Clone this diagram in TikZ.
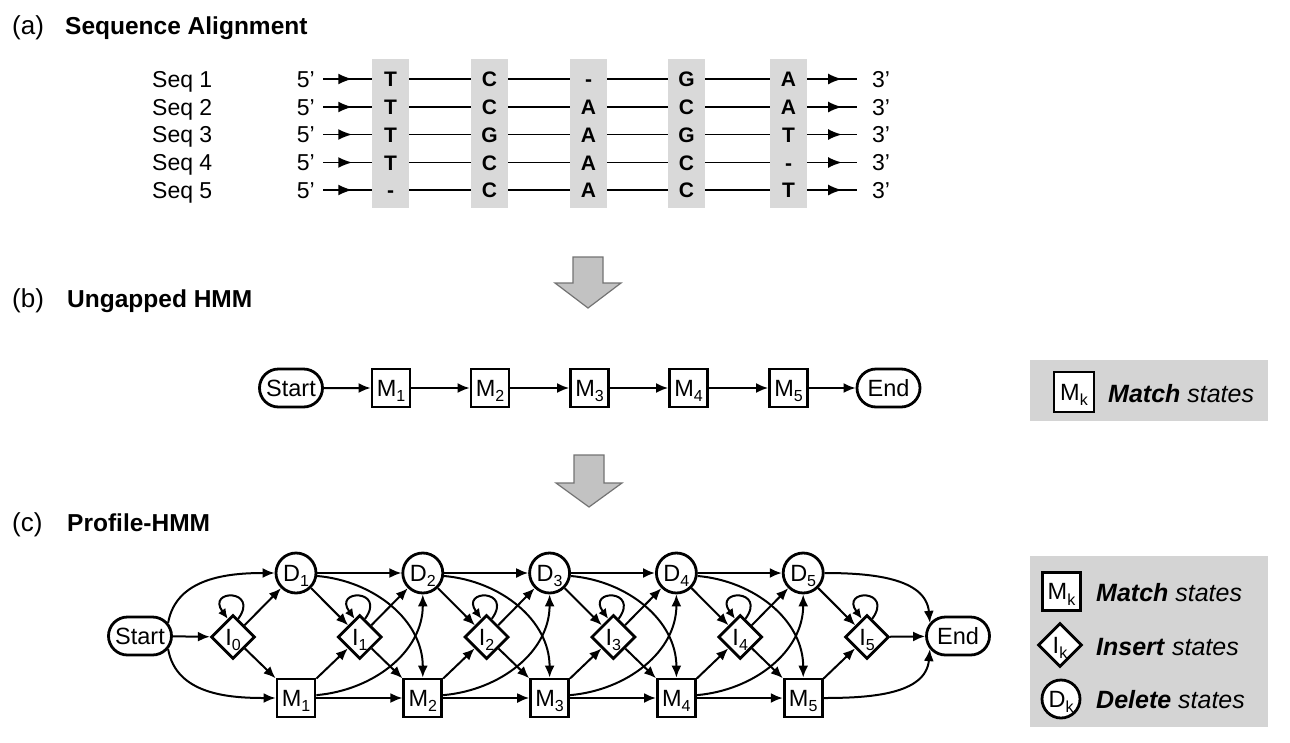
\documentclass[tikz,border=0pt]{standalone}
\usepackage{fontspec}
\setmainfont{Liberation Sans}
\usetikzlibrary{arrows.meta,shapes.geometric,shapes.misc,decorations.markings}
\definecolor{colgray}{gray}{0.85}
\definecolor{leggray}{gray}{0.83}
\definecolor{arrfill}{gray}{0.76}
\definecolor{arredge}{gray}{0.45}
\newcommand\sbs[1]{\raisebox{-5.5pt}{\fontsize{16}{16}\selectfont #1}}
\begin{document}
\begin{tikzpicture}[x=1pt,y=-1pt,
  title/.style={font=\fontsize{24.5}{28}\selectfont, anchor=base west, inner sep=0pt},
  seqlab/.style={font=\fontsize{23}{26}\selectfont, anchor=west, inner sep=0pt, text height=16.4pt, text depth=0pt},
  five/.style={font=\fontsize{23}{26}\selectfont, anchor=east, inner xsep=8pt, inner ysep=0pt, text height=16.4pt, text depth=0pt},
  three/.style={font=\fontsize{23}{26}\selectfont, anchor=west, inner xsep=15pt, inner ysep=0pt, text height=16.4pt, text depth=0pt},
  base/.style={font=\fontsize{21}{24}\selectfont\bfseries, minimum width=37pt, inner xsep=0pt, inner ysep=0pt, text height=15pt, text depth=0pt},
  seqline/.style={line width=1.9pt},
  midarrow/.style={postaction={decorate,decoration={markings,mark=at position #1 with {\arrow{Latex[length=14pt,width=11pt]}}}}},
  statefont/.style={font=\fontsize{23.5}{26}\selectfont, text height=16.8pt, text depth=0pt, inner sep=0pt},
  term/.style={rounded rectangle, draw, line width=2.8pt, fill=white, minimum width=63pt, minimum height=38pt, statefont},
  mstate/.style={rectangle, draw, line width=2.8pt, fill=white, minimum size=38pt, statefont},
  istate/.style={diamond, aspect=1, draw, line width=2.8pt, fill=white, minimum size=44pt, statefont},
  dstate/.style={circle, draw, line width=2.8pt, fill=white, minimum size=40pt, statefont},
  conn/.style={line width=2pt, -{Latex[length=12pt,width=10pt]}},
  connloop/.style={line width=2pt, -{Latex[length=10pt,width=9pt]}},
  legtext/.style={font=\fontsize{25}{28}\selectfont, anchor=base west, inner sep=0pt},
  blockarrow/.style={fill=arrfill, draw=arredge, line width=1.2pt}
]
\useasboundingbox (0,0) rectangle (1290,742);

% ---------- titles ----------
\node[title] (ta) at (12,34) {\fontsize{26}{28}\selectfont(a)};
\node[title] (tan) at (65,34) {\textbf{Sequence Alignment}};
\node[title] (tb) at (12,307) {\fontsize{26}{28}\selectfont(b)};
\node[title] (tbn) at (67,307) {\textbf{Ungapped HMM}};
\node[title] (tc) at (12,531) {\fontsize{26}{28}\selectfont(c)};
\node[title] (tcn) at (67,531) {\textbf{Profile-HMM}};

% ---------- (a) sequence alignment ----------
\foreach \cx in {390.5,489.5,588.5,686.5,788.5}
  \fill[colgray] (\cx-18.5,59) rectangle (\cx+18.5,208);

\foreach \r/\y/\la/\lb/\lc/\ld/\le in {1/79/T/C/-/G/A,2/107/T/C/A/C/A,3/134.5/T/G/A/G/T,4/162.5/T/C/A/C/-,5/190/-/C/A/C/T}{
  \node[seqlab] (s\r) at (152,\y) {Seq \r};
  \node[five] (f\r) at (323,\y) {5’};
  \node[base] (c\r1) at (390.5,\y) {\la};
  \node[base] (c\r2) at (489.5,\y) {\lb};
  \node[base] (c\r3) at (588.5,\y) {\lc};
  \node[base] (c\r4) at (686.5,\y) {\ld};
  \node[base] (c\r5) at (788.5,\y) {\le};
  \node[three] (t\r) at (857,\y) {3’};
  \draw[seqline, midarrow=0.6] (f\r) -- (c\r1);
  \draw[seqline] (c\r1) -- (c\r2);
  \draw[seqline] (c\r2) -- (c\r3);
  \draw[seqline] (c\r3) -- (c\r4);
  \draw[seqline] (c\r4) -- (c\r5);
  \draw[seqline, midarrow=0.7] (c\r5) -- (t\r);
}

% ---------- block arrows ----------
\filldraw[blockarrow] (573,257) -- (603,257) -- (603,283) -- (621,283) -- (588,308) -- (555,283) -- (573,283) -- cycle;
\filldraw[blockarrow] (574,455) -- (604,455) -- (604,483) -- (622,483) -- (589,507) -- (556,483) -- (574,483) -- cycle;

% ---------- (b) ungapped HMM ----------
\node[term] (bStart) at (291,388) {Start};
\node[mstate] (bM1) at (391,388) {M\sbs{1}};
\node[mstate] (bM2) at (490,388) {M\sbs{2}};
\node[mstate] (bM3) at (589.5,388) {M\sbs{3}};
\node[mstate] (bM4) at (688.5,388) {M\sbs{4}};
\node[mstate] (bM5) at (788.5,388) {M\sbs{5}};
\node[term] (bEnd) at (888.5,388) {End};
\draw[conn] (bStart) -- (bM1);
\draw[conn] (bM1) -- (bM2);
\draw[conn] (bM2) -- (bM3);
\draw[conn] (bM3) -- (bM4);
\draw[conn] (bM4) -- (bM5);
\draw[conn] (bM5) -- (bEnd);

% legend (b)
\fill[leggray] (1030,360) rectangle (1268,421);
\node[mstate, minimum size=40pt] (lbm) at (1074,392) {M\sbs{k}};
\node[legtext] (lbt) at (1108,402) {\textbf{\textit{Match}} \textit{states}};

% ---------- (c) profile HMM ----------
\node[term] (Start) at (140,636) {Start};
\foreach \q in {1,...,5}{
  \pgfmathsetmacro\xx{296+126.8*(\q-1)}
  \node[dstate] (D\q) at (\xx,573) {D\sbs{\q}};
  \node[mstate] (M\q) at (\xx,698) {M\sbs{\q}};
}
\foreach \q in {0,...,5}{
  \pgfmathsetmacro\xx{233+126.8*\q}
  \node[istate] (I\q) at (\xx,637) {I\sbs{\q}};
}
\node[term] (End) at (958,636) {End};

\draw[conn] (Start) -- (I0);
\draw[conn] (Start.25) to[out=80,in=180] (D1);
\draw[conn] (Start.-25) to[out=-80,in=180] (M1);

\foreach \q [evaluate=\q as \p using int(\q-1)] in {1,...,5}{
  \draw[conn] (I\p) -- (D\q);
  \draw[conn] (I\p) -- (M\q);
  \draw[conn] (D\q) -- (I\q);
  \draw[conn] (M\q) -- (I\q);
}
\foreach \q [evaluate=\q as \nx using int(\q+1)] in {1,...,4}{
  \draw[conn] (D\q) -- (D\nx);
  \draw[conn] (M\q) -- (M\nx);
  \draw[conn] (D\q.-8) to[out=-5,in=90] (M\nx.north);
  \draw[conn] (M\q.8) to[out=5,in=-90] (D\nx.south);
}
\foreach \q in {0,...,5}
  \draw[connloop] (I\q.74) .. controls +(54:37pt) and +(126:37pt) .. (I\q.106);

\draw[conn] (I5) -- (End);
\draw[conn] (D5) to[out=0,in=95] (End.155);
\draw[conn] (M5) to[out=0,in=-95] (End.205);

% legend (c)
\fill[leggray] (1030,556) rectangle (1268,727);
\node[mstate] (lcm) at (1061.5,591.5) {M\sbs{k}};
\node[legtext] (lcmt) at (1096,601) {\textbf{\textit{Match}} \textit{states}};
\node[istate] (lci) at (1060,645) {I\sbs{k}};
\node[legtext] (lcit) at (1096,655) {\textbf{\textit{Insert}} \textit{states}};
\node[dstate, minimum size=38pt] (lcd) at (1061,699) {D\sbs{k}};
\node[legtext] (lcdt) at (1096,708) {\textbf{\textit{Delete}} \textit{states}};
\end{tikzpicture}
\end{document}
